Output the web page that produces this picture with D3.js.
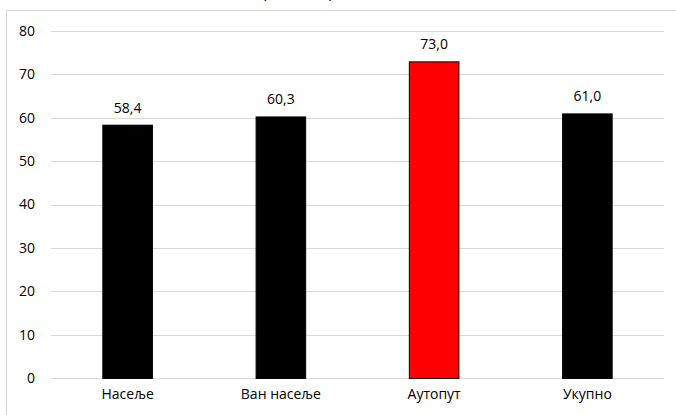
<!DOCTYPE html>
<html><head><meta charset="utf-8">
<script src="https://cdn.jsdelivr.net/npm/d3@7"></script>
<style>body{margin:0;background:#fff;} text{font-family:'Open Sans',sans-serif;fill:#000;}</style>
</head><body>
<svg id="c" width="676" height="415"></svg>
<script>
const categories = ["Насеље", "Ван насеље", "Аутопут", "Укупно"];
const values = [58.4, 60.3, 73.0, 61.0];
const barColors = ["#000000", "#000000", "#ff0000", "#000000"];
const yTicks = [0, 10, 20, 30, 40, 50, 60, 70, 80];
const title = "Средња брзина по деоници";

const svg = d3.select("#c");
svg.append("rect").attr("x", 6.5).attr("y", 10.5).attr("width", 700).attr("height", 420)
  .attr("fill", "#fff").attr("stroke", "#d9d9d9");
svg.append("text").attr("x", 362).attr("y", -3).attr("text-anchor", "middle")
  .style("font-size", "16px").text(title);

const x = d3.scaleBand().domain(categories).range([51, 664]).paddingInner(0.67).paddingOuter(0.335);
const y = d3.scaleLinear().domain([0, 80]).range([378, 31]);

const yAxis = d3.axisLeft(y).tickValues(yTicks).tickSize(0).tickPadding(0).tickFormat(d3.format("d"));
const gy = svg.append("g").attr("transform", "translate(35,0)").call(yAxis);
gy.select(".domain").remove();
gy.selectAll("text").style("font-size", "14px").attr("font-family", "Open Sans");

svg.append("g").selectAll("line").data(yTicks).join("line")
  .attr("x1", 51).attr("x2", 664)
  .attr("y1", d => Math.round(y(d)) + 0.5).attr("y2", d => Math.round(y(d)) + 0.5)
  .attr("stroke", "#d9d9d9").attr("stroke-width", 1);

const bw = x.bandwidth();
svg.append("g").selectAll("rect").data(values).join("rect")
  .attr("x", (d, i) => x(categories[i]) + 0.5)
  .attr("y", d => y(d) + 0.5)
  .attr("width", bw - 1)
  .attr("height", d => y(0) - y(d))
  .attr("fill", (d, i) => barColors[i])
  .attr("stroke", "#000").attr("stroke-width", 1);

svg.append("g").selectAll("text").data(values).join("text")
  .attr("x", (d, i) => x(categories[i]) + bw / 2)
  .attr("y", d => y(d) - 12)
  .attr("text-anchor", "middle").style("font-size", "14px")
  .text(d => d3.format(".1f")(d).replace(".", ","));

const xAxis = d3.axisBottom(x).tickSize(0).tickPadding(0);
const gx = svg.append("g").attr("transform", "translate(0,388)").call(xAxis);
gx.select(".domain").remove();
gx.selectAll("text").style("font-size", "14px").attr("font-family", "Open Sans").attr("dy", "0.8em");
</script>
</body></html>
